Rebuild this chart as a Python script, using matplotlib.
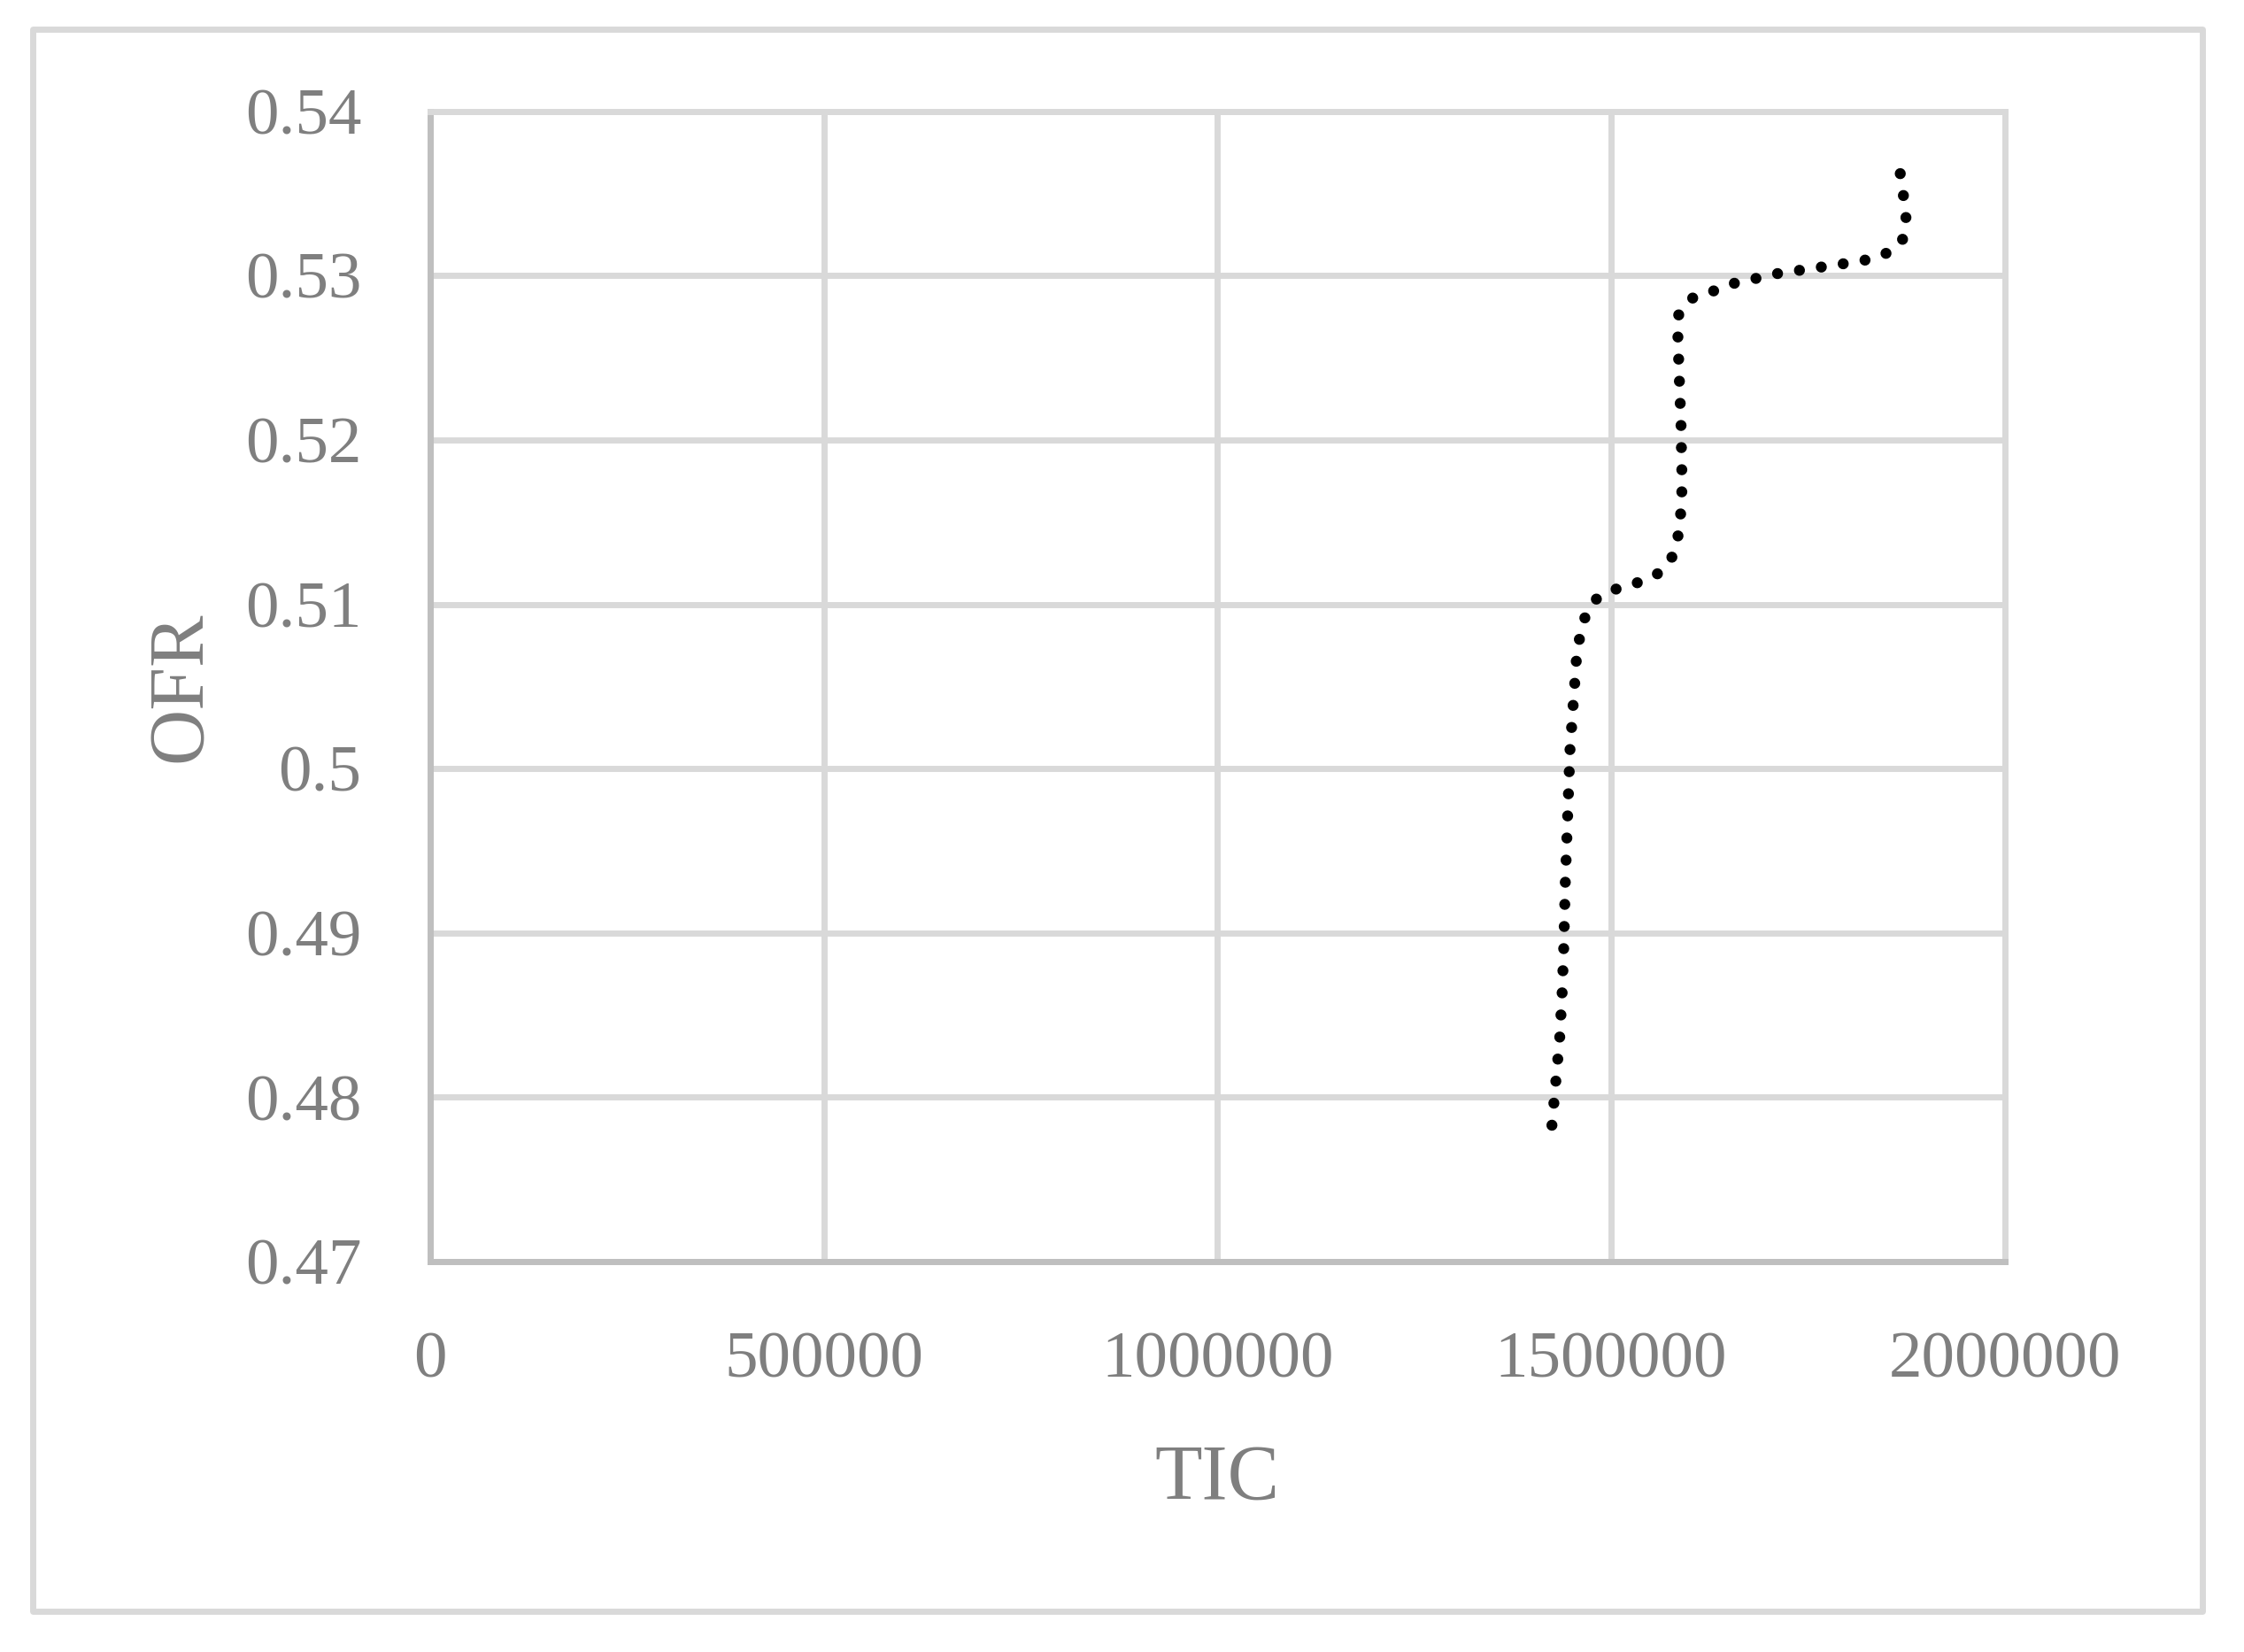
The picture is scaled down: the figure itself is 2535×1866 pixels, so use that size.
import matplotlib
matplotlib.use("Agg")
import matplotlib.pyplot as plt
import numpy as np
from matplotlib.patches import Rectangle

# ---- data ----
tic = [1425000, 1430000, 1435000, 1438000, 1440000, 1442000, 1444000, 1446000,
       1448000, 1450000, 1452000, 1454000, 1456000, 1460000, 1467000, 1481000,
       1505000, 1533000, 1558000, 1577000, 1585000, 1588500, 1590000, 1590000,
       1589500, 1589000, 1588000, 1587000, 1586000, 1585000, 1586000, 1602000,
       1627000, 1654000, 1682000, 1709000, 1737000, 1765000, 1793000, 1820000,
       1848000, 1870000, 1875000, 1872000, 1867500]
ofr = [0.4783, 0.4810, 0.4837, 0.4864, 0.4891, 0.4931, 0.4958, 0.4985,
       0.5012, 0.5025, 0.5039, 0.5052, 0.5066, 0.5079, 0.5092, 0.5103,
       0.5109, 0.5113, 0.5118, 0.5128, 0.5141, 0.5155, 0.5168, 0.5182,
       0.5195, 0.5209, 0.5222, 0.5235, 0.5249, 0.5262, 0.5276, 0.5286,
       0.5290, 0.5295, 0.5298, 0.5301, 0.5303, 0.5305, 0.5307, 0.5309,
       0.5313, 0.5321, 0.5334, 0.5347, 0.5362]

x_ticks = [0, 500000, 1000000, 1500000, 2000000]
x_ticklabels = ["0", "500000", "1000000", "1500000", "2000000"]
y_ticks = [0.47, 0.48, 0.49, 0.50, 0.51, 0.52, 0.53, 0.54]
y_ticklabels = ["0.47", "0.48", "0.49", "0.5", "0.51", "0.52", "0.53", "0.54"]
x_label = "TIC"
y_label = "OFR"

# ---- style ----
plt.rcParams['font.family'] = ['Liberation Serif', 'DejaVu Serif']
TXT = "#7F7F7F"
GRID = "#D9D9D9"
AXC = "#BFBFBF"
DPI = 100
LW = 9.0  # points

fig = plt.figure(figsize=(25.35, 18.66), dpi=DPI)
fig.patch.set_facecolor("white")

# outer chart border
fig.patches.append(Rectangle((0.0146, 0.0244), 0.9667, 0.9579,
                             transform=fig.transFigure, fill=False,
                             edgecolor=GRID, linewidth=5, joinstyle="round"))

ax = fig.add_axes([0.1917, 0.2363, 0.8933 - 0.1917, 0.9327 - 0.2363])
ax.set_xlim(0, 2000000)
ax.set_ylim(0.47, 0.54)

# choose a dot spacing so that dots land on both ends of the curve
pts = ax.transData.transform(np.column_stack([tic, ofr]))
L = np.sum(np.hypot(*np.diff(pts, axis=0).T))
lw_px = LW * DPI / 72.0
n = max(1, int(round(L / 25.0)))
period = L / n / lw_px
ax.plot(tic, ofr, color="black", linewidth=LW,
        linestyle=(0, (0.001, period - 0.001)), dash_capstyle="round", zorder=3)

ax.set_xticks(x_ticks)
ax.set_xticklabels(x_ticklabels)
ax.set_yticks(y_ticks)
ax.set_yticklabels(y_ticklabels)

ax.set_axisbelow(True)
ax.grid(True, color=GRID, linewidth=5)
ax.tick_params(axis="both", length=0, labelsize=54, labelcolor=TXT)
ax.tick_params(axis="x", pad=57)
ax.tick_params(axis="y", pad=56)

for side in ["top", "right"]:
    ax.spines[side].set_color(GRID)
    ax.spines[side].set_linewidth(5)
for side in ["left", "bottom"]:
    ax.spines[side].set_color(AXC)
    ax.spines[side].set_linewidth(5)

ax.set_xlabel(x_label, fontsize=63, color=TXT, labelpad=42)
ax.set_ylabel(y_label, fontsize=63, color=TXT, labelpad=23)

fig.savefig("out.png", dpi=DPI, facecolor="white")
